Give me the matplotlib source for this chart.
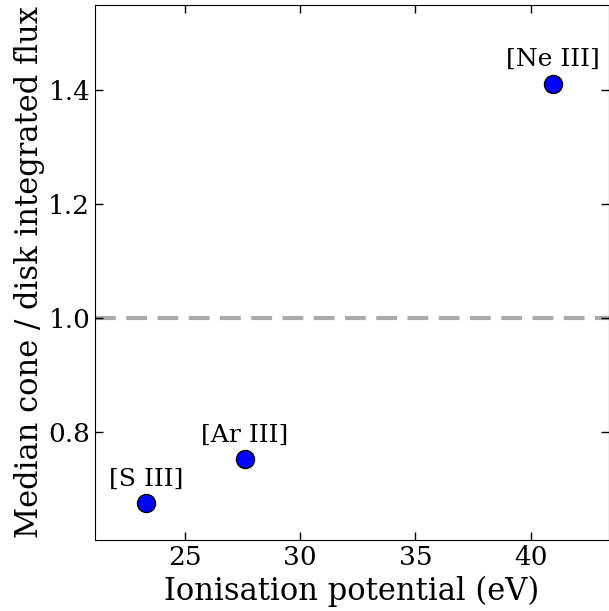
import matplotlib
matplotlib.use("Agg")
import matplotlib.pyplot as plt

plt.rcParams['font.family'] = 'DejaVu Serif'

lines = ["[S III]", "[Ar III]", "[Ne III]"]
ion_pot = [23.3, 27.6, 40.95]
ratio = [0.675, 0.752, 1.412]

fig = plt.figure(figsize=(6.09, 6.11), dpi=100)
ax = fig.add_axes([95/609, 1-540/611, 1-95/609, (540-5)/611])

ax.axhline(1.0, color='#aaaaaa', ls='--', lw=3, dashes=(5, 2.5), zorder=1)
ax.plot(ion_pot, ratio, 'o', ms=13, mfc='blue', mec='black', mew=1, zorder=3)
for x, y, s in zip(ion_pot, ratio, lines):
    ax.annotate(s, (x, y), xytext=(0, 9), textcoords='offset points',
                ha='center', va='bottom', fontsize=18)

ax.set_xlim(21.1, 43.4)
ax.set_ylim(0.61, 1.55)
ax.set_xticks([25, 30, 35, 40])
ax.set_yticks([0.8, 1.0, 1.2, 1.4])
ax.tick_params(direction='in', top=True, right=True, labelsize=19, length=6, width=1)
ax.set_xlabel('Ionisation potential (eV)', fontsize=22)
ax.set_ylabel('Median cone / disk integrated flux', fontsize=22, labelpad=2)

fig.savefig('out.png', dpi=100)
